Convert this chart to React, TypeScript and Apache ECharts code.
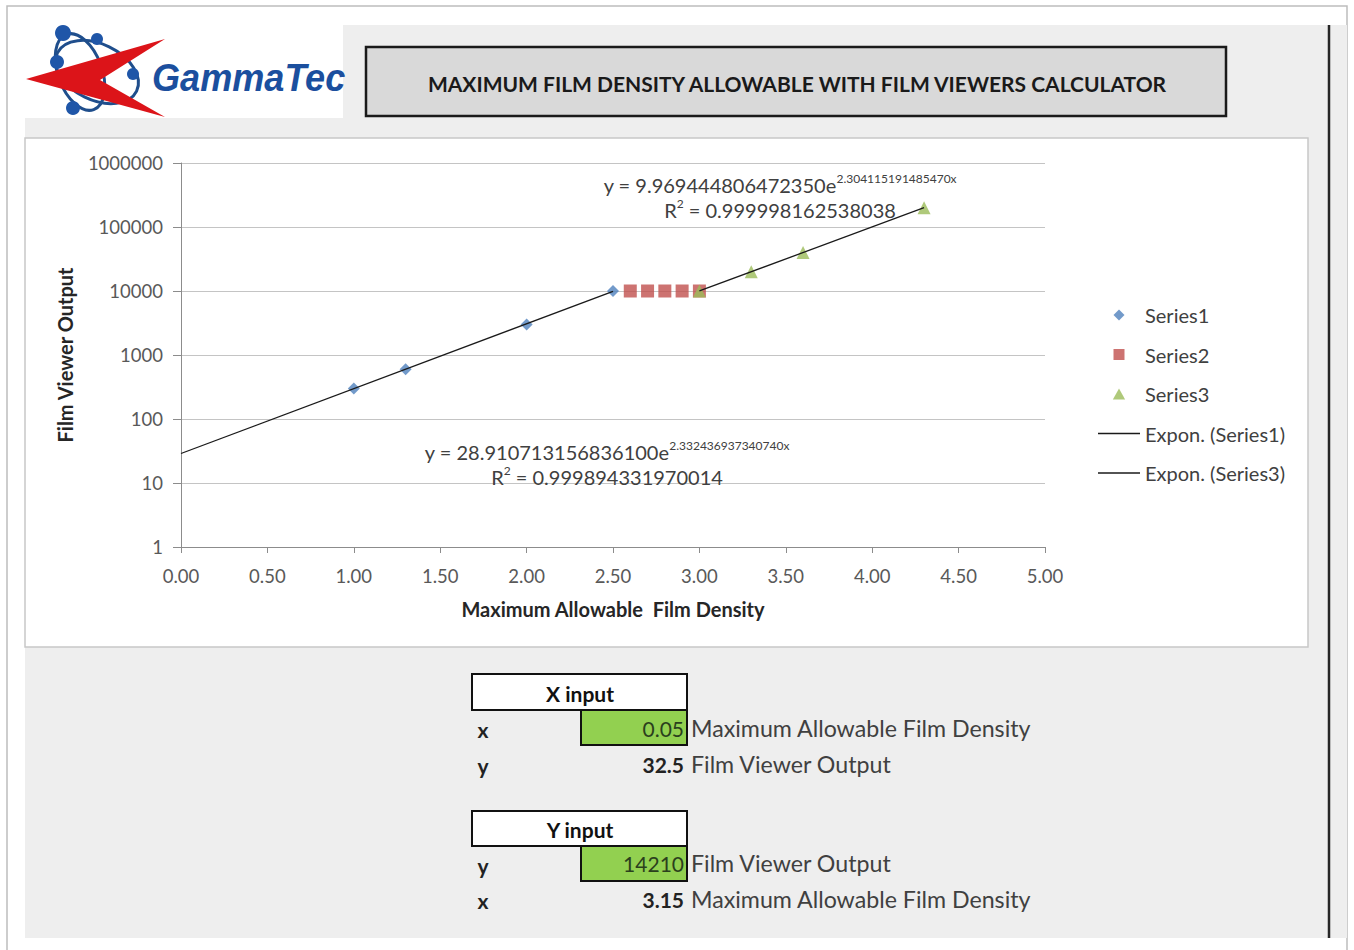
import React, { useEffect, useRef } from "react";
import * as echarts from "echarts";

// ---- data ----
const series1X = [1.0, 1.3, 2.0, 2.5];
const series1Y = [300, 600, 3000, 10000];
const series2X = [2.6, 2.7, 2.8, 2.9, 3.0];
const series2Y = [10000, 10000, 10000, 10000, 10000];
const series3X = [3.0, 3.3, 3.6, 4.3];
const series3Y = [10000, 20000, 40000, 200000];
// trendline end points (exponential fits -> straight on log axis)
const trend1X = [0, 2.5];
const trend1Y = [28.91, 9847];
const trend3X = [3.0, 4.3];
const trend3Y = [10013, 200230];

const seriesNames = ["Series1", "Series2", "Series3", "Expon. (Series1)", "Expon. (Series3)"];
const eq3Main = "y = 9.969444806472350e";
const eq3Exp = "2.304115191485470x";
const eq3R2 = " = 0.999998162538038";
const eq1Main = "y = 28.910713156836100e";
const eq1Exp = "2.332436937340740x";
const eq1R2 = " = 0.999894331970014";

const titleText = "MAXIMUM FILM DENSITY ALLOWABLE WITH FILM VIEWERS CALCULATOR";
const xAxisName = "Maximum Allowable  Film Density";
const yAxisName = "Film Viewer Output";

const xInputValue = "0.05";
const xInputResult = "32.5";
const yInputValue = "14210";
const yInputResult = "3.15";

const pair = (xs: number[], ys: number[]) => xs.map((x, i) => [x, ys[i]]);

const FONT = "Lato";

const ICON_DIAMOND = "path://M0,-1L1,0L0,1L-1,0Z";
const ICON_SQUARE = "path://M0,0L1,0L1,1L0,1Z";
const ICON_TRIANGLE = "path://M0,-1L1,0.8L-1,0.8Z";
const ICON_LINE = "path://M0,0L42,0L42,1.4L0,1.4Z";

function txt(text: string, x: number, y: number, size: number, opts: any = {}) {
  return {
    type: "text",
    x,
    y,
    z: 10,
    silent: true,
    style: {
      text,
      fill: opts.fill || "#404040",
      fontSize: size,
      fontFamily: opts.family || FONT,
      fontWeight: opts.weight || "normal",
      fontStyle: opts.style || "normal",
      align: opts.align || "left",
      verticalAlign: "middle",
    },
    ...(opts.scaleX ? { scaleX: opts.scaleX } : {}),
  };
}

function eqText(main: string, exp: string, r2: string, x: number, y: number) {
  return {
    type: "text",
    x,
    y,
    z: 10,
    silent: true,
    style: {
      text: `{a|${main}}{s|${exp}}\n{a|R}{s|2}{a|${r2}}`,
      align: "center",
      verticalAlign: "middle",
      rich: {
        a: { fontSize: 20, fontFamily: FONT, fill: "#404040", lineHeight: 25 },
        s: { fontSize: 12, fontFamily: FONT, fill: "#404040", lineHeight: 25, verticalAlign: "top" },
      },
    },
  };
}

export default function App() {
  const ref = useRef<HTMLDivElement>(null);
  useEffect(() => {
    if (!ref.current) return;
    const chart = echarts.init(ref.current, undefined, { renderer: "svg" });

    const LBL = 23.2;
    const NUM = 21;
    const graphic: any[] = [
      // page & panels
      { type: "rect", z: -100, silent: true, shape: { x: 7, y: 6, width: 1340, height: 960 }, style: { fill: "#ffffff", stroke: "#bdbdbd", lineWidth: 1.5 } },
      { type: "rect", z: -99, silent: true, shape: { x: 25, y: 25, width: 1322, height: 913 }, style: { fill: "#eeeeee" } },
      { type: "rect", z: -98, silent: true, shape: { x: 25, y: 25, width: 318, height: 93 }, style: { fill: "#ffffff" } },
      { type: "rect", z: -98, silent: true, shape: { x: 25, y: 138, width: 1283, height: 509 }, style: { fill: "#ffffff", stroke: "#c8c8c8", lineWidth: 1.5 } },
      { type: "line", z: -97, silent: true, shape: { x1: 1329, y1: 25, x2: 1329, y2: 938 }, style: { stroke: "#262626", lineWidth: 2.5 } },
      // title box
      { type: "rect", z: -97, silent: true, shape: { x: 366, y: 47, width: 860, height: 69 }, style: { fill: "#d9d9d9", stroke: "#1a1a1a", lineWidth: 2.5 } },
      txt(titleText, 797, 83, 21, { weight: "bold", fill: "#1a1a1a", align: "center" }),
      // logo orbits
      { type: "ellipse", z: 5, silent: true, x: 97, y: 72, rotation: -0.45, shape: { cx: 0, cy: 0, rx: 44, ry: 28 }, style: { fill: "none", stroke: "#1f4e8c", lineWidth: 3 } },
      { type: "ellipse", z: 5, silent: true, x: 80, y: 72, rotation: 0.35, shape: { cx: 0, cy: 0, rx: 22, ry: 40 }, style: { fill: "none", stroke: "#1f4e8c", lineWidth: 3 } },
      { type: "circle", z: 5, silent: true, shape: { cx: 63, cy: 33, r: 8 }, style: { fill: "#1f56a8" } },
      { type: "circle", z: 5, silent: true, shape: { cx: 97, cy: 39, r: 6 }, style: { fill: "#1f56a8" } },
      { type: "circle", z: 5, silent: true, shape: { cx: 57, cy: 62, r: 7 }, style: { fill: "#1f56a8" } },
      { type: "circle", z: 5, silent: true, shape: { cx: 73, cy: 108, r: 7 }, style: { fill: "#1f56a8" } },
      { type: "polygon", z: 6, silent: true, shape: { points: [[26, 79], [165, 39], [100, 80], [165, 117]] }, style: { fill: "#dc1419" } },
      { type: "circle", z: 7, silent: true, shape: { cx: 133, cy: 74, r: 6 }, style: { fill: "#1f56a8" } },
      txt("GammaTec", 152, 78, 38, { family: "Liberation Sans", weight: "bold", style: "italic", fill: "#1b4f9e", scaleX: 0.95 }),
      // equations
      eqText(eq3Main, eq3Exp, eq3R2, 780, 197),
      eqText(eq1Main, eq1Exp, eq1R2, 607, 464),
      // input section
      { type: "rect", z: 5, silent: true, shape: { x: 472, y: 674, width: 215, height: 36 }, style: { fill: "#ffffff", stroke: "#111111", lineWidth: 2 } },
      txt("X input", 580, 693, 21, { weight: "bold", fill: "#111111", align: "center" }),
      { type: "rect", z: 5, silent: true, shape: { x: 581, y: 710, width: 106, height: 35 }, style: { fill: "#92d050", stroke: "#111111", lineWidth: 2 } },
      txt("x", 483, 729, NUM, { weight: "bold", fill: "#222222", align: "center" }),
      txt(xInputValue, 684, 728, NUM, { fill: "#2b3f1d", align: "right" }),
      txt("Maximum Allowable Film Density", 691, 728, LBL, {}),
      txt("y", 483, 765, NUM, { weight: "bold", fill: "#222222", align: "center" }),
      txt(xInputResult, 684, 764, NUM, { weight: "bold", fill: "#222222", align: "right" }),
      txt("Film Viewer Output", 691, 764, LBL, {}),
      { type: "rect", z: 5, silent: true, shape: { x: 472, y: 811, width: 215, height: 35 }, style: { fill: "#ffffff", stroke: "#111111", lineWidth: 2 } },
      txt("Y input", 580, 829, 21, { weight: "bold", fill: "#111111", align: "center" }),
      { type: "rect", z: 5, silent: true, shape: { x: 581, y: 846, width: 106, height: 35 }, style: { fill: "#92d050", stroke: "#111111", lineWidth: 2 } },
      txt("y", 483, 865, NUM, { weight: "bold", fill: "#222222", align: "center" }),
      txt(yInputValue, 684, 863, NUM, { fill: "#2b3f1d", align: "right" }),
      txt("Film Viewer Output", 691, 863, LBL, {}),
      txt("x", 483, 900, NUM, { weight: "bold", fill: "#222222", align: "center" }),
      txt(yInputResult, 684, 899, NUM, { weight: "bold", fill: "#222222", align: "right" }),
      txt("Maximum Allowable Film Density", 691, 899, LBL, {}),
    ];

    const axisGray = "#8c8c8c";
    chart.setOption({
      animation: false,
      backgroundColor: "#ffffff",
      textStyle: { fontFamily: FONT },
      grid: { left: 181, top: 163, width: 864, height: 384, containLabel: false },
      xAxis: {
        type: "value",
        min: 0,
        max: 5,
        interval: 0.5,
        axisLine: { show: true, lineStyle: { color: axisGray, width: 1 } },
        axisTick: { show: true, length: 6, lineStyle: { color: axisGray } },
        axisLabel: { formatter: (v: number) => v.toFixed(2), color: "#595959", fontSize: 18.5, fontFamily: FONT, margin: 19 },
        splitLine: { show: false },
        name: xAxisName,
        nameLocation: "middle",
        nameGap: 52,
        nameTextStyle: { fontWeight: "bold", fontSize: 20, color: "#262626", fontFamily: FONT },
      },
      yAxis: {
        type: "log",
        logBase: 10,
        min: 1,
        max: 1000000,
        axisLine: { show: true, lineStyle: { color: axisGray, width: 1 } },
        axisTick: { show: true, length: 8, lineStyle: { color: axisGray } },
        minorTick: { show: false },
        axisLabel: { formatter: (v: number) => String(Math.round(v)), color: "#595959", fontSize: 18.5, fontFamily: FONT, margin: 18 },
        splitLine: { show: true, lineStyle: { color: "#c4c4c4", width: 1 } },
        name: yAxisName,
        nameLocation: "middle",
        nameRotate: 90,
        nameGap: 106,
        nameTextStyle: { fontWeight: "bold", fontSize: 20, color: "#262626", fontFamily: FONT },
      },
      legend: {
        orient: "vertical",
        left: 1093,
        top: 300,
        itemWidth: 42,
        itemHeight: 11,
        itemGap: 19.5,
        symbolKeepAspect: true,
        textStyle: { fontSize: 20, color: "#404040", fontFamily: FONT },
        data: [
          { name: seriesNames[0], icon: ICON_DIAMOND },
          { name: seriesNames[1], icon: ICON_SQUARE },
          { name: seriesNames[2], icon: ICON_TRIANGLE },
          { name: seriesNames[3], icon: ICON_LINE },
          { name: seriesNames[4], icon: ICON_LINE },
        ],
      },
      graphic: { elements: graphic },
      series: [
        { name: seriesNames[0], type: "scatter", data: pair(series1X, series1Y), symbol: "diamond", symbolSize: 12, itemStyle: { color: "#4f81bd" }, z: 3 },
        { name: seriesNames[1], type: "scatter", data: pair(series2X, series2Y), symbol: "rect", symbolSize: 13, itemStyle: { color: "#c0504d" }, z: 3 },
        { name: seriesNames[2], type: "scatter", data: pair(series3X, series3Y), symbol: "triangle", symbolSize: 13, itemStyle: { color: "#9bbb59" }, z: 4 },
        { name: seriesNames[3], type: "line", data: pair(trend1X, trend1Y), symbol: "none", showSymbol: false, lineStyle: { color: "#1a1a1a", width: 1.3 }, itemStyle: { color: "#1a1a1a" }, z: 5 },
        { name: seriesNames[4], type: "line", data: pair(trend3X, trend3Y), symbol: "none", showSymbol: false, lineStyle: { color: "#1a1a1a", width: 1.3 }, itemStyle: { color: "#1a1a1a" }, z: 5 },
      ],
    });
    return () => chart.dispose();
  }, []);
  return <div ref={ref} style={{ position: "absolute", left: 0, top: 0, width: 1354, height: 950 }} />;
}
